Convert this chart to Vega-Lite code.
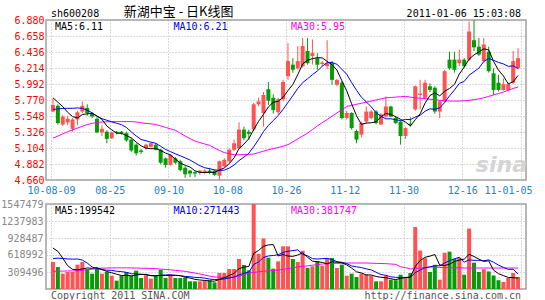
{
"$schema": "https://vega.github.io/schema/vega-lite/v6.json",
"padding": {"left": 0, "top": 5, "right": 5, "bottom": 2},
"background": "white",
"bounds": "flush",
"spacing": 24,
"config": {"view": {"stroke": "#a0a0a0", "strokeWidth": 1.5}, "text": {"font": "DejaVu Sans Mono", "fontSize": 10},
  "axis": {"labelOverlap": false, "labelFlush": false, "labelBound": false}},
"datasets": {"k": [
{"i":0,"o":5.61,"h":5.79,"l":5.60,"c":5.70,"v":491000,"m5":5.80,"m10":5.64,"m30":5.24,"vm5":746000,"vm10":552000,"vm30":322000},
{"i":1,"o":5.69,"h":5.71,"l":5.43,"c":5.45,"v":400000,"m5":5.74,"m10":5.645,"m30":5.27,"vm5":686000,"vm10":562000,"vm30":324000},
{"i":2,"o":5.43,"h":5.56,"l":5.41,"c":5.54,"v":279000,"m5":5.678,"m10":5.654,"m30":5.30,"vm5":562000,"vm10":555000,"vm30":326000},
{"i":3,"o":5.46,"h":5.55,"l":5.42,"c":5.51,"v":309000,"m5":5.60,"m10":5.655,"m30":5.33,"vm5":424000,"vm10":548000,"vm30":328000},
{"i":4,"o":5.37,"h":5.52,"l":5.33,"c":5.50,"v":309000,"m5":5.54,"m10":5.655,"m30":5.355,"vm5":358000,"vm10":543000,"vm30":330000},
{"i":5,"o":5.50,"h":5.62,"l":5.42,"c":5.60,"v":443000,"m5":5.52,"m10":5.66,"m30":5.38,"vm5":348000,"vm10":547000,"vm30":330000},
{"i":6,"o":5.61,"h":5.75,"l":5.59,"c":5.69,"v":491000,"m5":5.568,"m10":5.654,"m30":5.405,"vm5":366000,"vm10":526000,"vm30":340000},
{"i":7,"o":5.66,"h":5.71,"l":5.55,"c":5.59,"v":364000,"m5":5.578,"m10":5.628,"m30":5.43,"vm5":383000,"vm10":473000,"vm30":350000},
{"i":8,"o":5.58,"h":5.60,"l":5.52,"c":5.54,"v":279000,"m5":5.584,"m10":5.592,"m30":5.445,"vm5":377000,"vm10":400000,"vm30":360000},
{"i":9,"o":5.51,"h":5.53,"l":5.31,"c":5.32,"v":364000,"m5":5.548,"m10":5.544,"m30":5.46,"vm5":388000,"vm10":373000,"vm30":372000},
{"i":10,"o":5.32,"h":5.42,"l":5.27,"c":5.37,"v":279000,"m5":5.502,"m10":5.511,"m30":5.465,"vm5":355000,"vm10":352000,"vm30":380000},
{"i":11,"o":5.33,"h":5.35,"l":5.17,"c":5.23,"v":309000,"m5":5.41,"m10":5.489,"m30":5.468,"vm5":319000,"vm10":343000,"vm30":382000},
{"i":12,"o":5.24,"h":5.33,"l":5.23,"c":5.32,"v":243000,"m5":5.356,"m10":5.467,"m30":5.47,"vm5":295000,"vm10":339000,"vm30":384000},
{"i":13,"o":5.33,"h":5.34,"l":5.29,"c":5.31,"v":152000,"m5":5.31,"m10":5.447,"m30":5.47,"vm5":269000,"vm10":323000,"vm30":385000},
{"i":14,"o":5.33,"h":5.34,"l":5.29,"c":5.31,"v":243000,"m5":5.308,"m10":5.428,"m30":5.47,"vm5":245000,"vm10":317000,"vm30":385000},
{"i":15,"o":5.31,"h":5.33,"l":5.19,"c":5.21,"v":309000,"m5":5.276,"m10":5.389,"m30":5.47,"vm5":251000,"vm10":303000,"vm30":385000},
{"i":16,"o":5.22,"h":5.24,"l":5.05,"c":5.07,"v":243000,"m5":5.244,"m10":5.327,"m30":5.47,"vm5":238000,"vm10":279000,"vm30":383000},
{"i":17,"o":5.15,"h":5.17,"l":5.00,"c":5.03,"v":334000,"m5":5.186,"m10":5.271,"m30":5.465,"vm5":256000,"vm10":276000,"vm30":381000},
{"i":18,"o":5.07,"h":5.09,"l":5.02,"c":5.05,"v":200000,"m5":5.134,"m10":5.222,"m30":5.455,"vm5":266000,"vm10":268000,"vm30":379000},
{"i":19,"o":5.10,"h":5.16,"l":5.08,"c":5.15,"v":243000,"m5":5.102,"m10":5.205,"m30":5.445,"vm5":266000,"vm10":256000,"vm30":377000},
{"i":20,"o":5.12,"h":5.18,"l":5.11,"c":5.17,"v":188000,"m5":5.094,"m10":5.185,"m30":5.44,"vm5":242000,"vm10":246000,"vm30":375000},
{"i":21,"o":5.15,"h":5.17,"l":5.07,"c":5.08,"v":243000,"m5":5.096,"m10":5.17,"m30":5.43,"vm5":242000,"vm10":240000,"vm30":370000},
{"i":22,"o":5.08,"h":5.09,"l":4.88,"c":4.90,"v":352000,"m5":5.07,"m10":5.128,"m30":5.41,"vm5":245000,"vm10":251000,"vm30":362000},
{"i":23,"o":4.96,"h":4.97,"l":4.83,"c":4.87,"v":200000,"m5":5.034,"m10":5.084,"m30":5.39,"vm5":245000,"vm10":256000,"vm30":356000},
{"i":24,"o":4.87,"h":5.02,"l":4.86,"c":5.01,"v":261000,"m5":5.006,"m10":5.054,"m30":5.37,"vm5":249000,"vm10":257000,"vm30":350000},
{"i":25,"o":4.96,"h":4.98,"l":4.88,"c":4.90,"v":200000,"m5":4.952,"m10":5.023,"m30":5.35,"vm5":251000,"vm10":246000,"vm30":340000},
{"i":26,"o":4.92,"h":4.94,"l":4.78,"c":4.80,"v":200000,"m5":4.896,"m10":4.996,"m30":5.31,"vm5":243000,"vm10":242000,"vm30":331000},
{"i":27,"o":4.83,"h":4.85,"l":4.69,"c":4.74,"v":200000,"m5":4.864,"m10":4.967,"m30":5.27,"vm5":212000,"vm10":229000,"vm30":322000},
{"i":28,"o":4.79,"h":4.80,"l":4.70,"c":4.75,"v":140000,"m5":4.84,"m10":4.937,"m30":5.235,"vm5":200000,"vm10":223000,"vm30":306000},
{"i":29,"o":4.77,"h":4.78,"l":4.70,"c":4.75,"v":140000,"m5":4.788,"m10":4.897,"m30":5.20,"vm5":176000,"vm10":212000,"vm30":290000},
{"i":30,"o":4.76,"h":4.80,"l":4.73,"c":4.79,"v":140000,"m5":4.766,"m10":4.859,"m30":5.18,"vm5":164000,"vm10":208000,"vm30":273000},
{"i":31,"o":4.76,"h":4.81,"l":4.74,"c":4.79,"v":158000,"m5":4.764,"m10":4.83,"m30":5.16,"vm5":156000,"vm10":199000,"vm30":255000},
{"i":32,"o":4.79,"h":4.83,"l":4.74,"c":4.76,"v":158000,"m5":4.768,"m10":4.816,"m30":5.14,"vm5":147000,"vm10":180000,"vm30":236000},
{"i":33,"o":4.79,"h":4.80,"l":4.72,"c":4.73,"v":121000,"m5":4.764,"m10":4.802,"m30":5.105,"vm5":143000,"vm10":172000,"vm30":218000},
{"i":34,"o":4.72,"h":4.93,"l":4.66,"c":4.92,"v":291000,"m5":4.798,"m10":4.793,"m30":5.07,"vm5":174000,"vm10":175000,"vm30":215000},
{"i":35,"o":4.85,"h":4.96,"l":4.84,"c":4.94,"v":291000,"m5":4.828,"m10":4.797,"m30":5.04,"vm5":204000,"vm10":184000,"vm30":213000},
{"i":36,"o":4.92,"h":5.10,"l":4.90,"c":5.08,"v":364000,"m5":4.886,"m10":4.825,"m30":5.025,"vm5":245000,"vm10":200000,"vm30":212000},
{"i":37,"o":5.08,"h":5.22,"l":5.06,"c":5.17,"v":364000,"m5":4.968,"m10":4.868,"m30":5.01,"vm5":286000,"vm10":217000,"vm30":220000},
{"i":38,"o":5.10,"h":5.46,"l":5.09,"c":5.36,"v":546000,"m5":5.094,"m10":4.929,"m30":5.01,"vm5":371000,"vm10":257000,"vm30":231000},
{"i":39,"o":5.36,"h":5.40,"l":5.21,"c":5.24,"v":437000,"m5":5.158,"m10":4.978,"m30":5.012,"vm5":400000,"vm10":287000,"vm30":260000},
{"i":40,"o":5.33,"h":5.36,"l":5.22,"c":5.30,"v":340000,"m5":5.232,"m10":5.03,"m30":5.015,"vm5":410000,"vm10":307000,"vm30":291000},
{"i":41,"o":5.36,"h":5.73,"l":5.34,"c":5.71,"v":1547479,"m5":5.358,"m10":5.122,"m30":5.02,"vm5":647000,"vm10":446000,"vm30":302000},
{"i":42,"o":5.71,"h":5.80,"l":5.68,"c":5.75,"v":640000,"m5":5.474,"m10":5.221,"m30":5.04,"vm5":702000,"vm10":494000,"vm30":312000},
{"i":43,"o":5.59,"h":5.88,"l":5.40,"c":5.84,"v":920000,"m5":5.57,"m10":5.332,"m30":5.06,"vm5":777000,"vm10":574000,"vm30":322000},
{"i":44,"o":5.92,"h":6.02,"l":5.70,"c":5.76,"v":570000,"m5":5.674,"m10":5.416,"m30":5.08,"vm5":803000,"vm10":602000,"vm30":330000},
{"i":45,"o":5.80,"h":5.85,"l":5.58,"c":5.63,"v":370000,"m5":5.738,"m10":5.485,"m30":5.095,"vm5":809000,"vm10":610000,"vm30":338000},
{"i":46,"o":5.60,"h":5.80,"l":5.57,"c":5.78,"v":504000,"m5":5.752,"m10":5.555,"m30":5.11,"vm5":601000,"vm10":624000,"vm30":345000},
{"i":47,"o":5.78,"h":6.05,"l":5.75,"c":6.02,"v":777000,"m5":5.806,"m10":5.64,"m30":5.13,"vm5":628000,"vm10":665000,"vm30":358000},
{"i":48,"o":6.10,"h":6.56,"l":6.05,"c":6.31,"v":777000,"m5":5.90,"m10":5.735,"m30":5.15,"vm5":600000,"vm10":688000,"vm30":372000},
{"i":49,"o":6.26,"h":6.35,"l":6.15,"c":6.19,"v":546000,"m5":5.986,"m10":5.83,"m30":5.19,"vm5":595000,"vm10":699000,"vm30":386000},
{"i":50,"o":6.21,"h":6.52,"l":6.19,"c":6.31,"v":491000,"m5":6.122,"m10":5.93,"m30":5.23,"vm5":619000,"vm10":714000,"vm30":400000},
{"i":51,"o":6.24,"h":6.63,"l":6.22,"c":6.52,"v":698000,"m5":6.27,"m10":6.011,"m30":5.27,"vm5":658000,"vm10":629000,"vm30":411000},
{"i":52,"o":6.45,"h":6.63,"l":6.26,"c":6.28,"v":382000,"m5":6.322,"m10":6.064,"m30":5.31,"vm5":579000,"vm10":604000,"vm30":422000},
{"i":53,"o":6.38,"h":6.61,"l":6.26,"c":6.42,"v":413000,"m5":6.344,"m10":6.122,"m30":5.36,"vm5":506000,"vm10":553000,"vm30":433000},
{"i":54,"o":6.35,"h":6.42,"l":6.19,"c":6.26,"v":504000,"m5":6.358,"m10":6.172,"m30":5.41,"vm5":498000,"vm10":546000,"vm30":444000},
{"i":55,"o":6.27,"h":6.31,"l":6.24,"c":6.29,"v":425000,"m5":6.354,"m10":6.238,"m30":5.455,"vm5":484000,"vm10":552000,"vm30":455000},
{"i":56,"o":6.24,"h":6.60,"l":6.20,"c":6.28,"v":564000,"m5":6.306,"m10":6.288,"m30":5.50,"vm5":458000,"vm10":558000,"vm30":459000},
{"i":57,"o":6.28,"h":6.31,"l":5.98,"c":6.05,"v":564000,"m5":6.26,"m10":6.291,"m30":5.545,"vm5":494000,"vm10":536000,"vm30":464000},
{"i":58,"o":5.98,"h":6.06,"l":5.96,"c":6.05,"v":382000,"m5":6.186,"m10":6.265,"m30":5.59,"vm5":488000,"vm10":497000,"vm30":468000},
{"i":59,"o":6.01,"h":6.03,"l":5.50,"c":5.52,"v":443000,"m5":6.038,"m10":6.198,"m30":5.635,"vm5":476000,"vm10":487000,"vm30":471000},
{"i":60,"o":5.52,"h":5.62,"l":5.50,"c":5.59,"v":243000,"m5":5.898,"m10":6.126,"m30":5.68,"vm5":439000,"vm10":462000,"vm30":473000},
{"i":61,"o":5.59,"h":5.60,"l":5.36,"c":5.38,"v":279000,"m5":5.718,"m10":6.012,"m30":5.695,"vm5":382000,"vm10":420000,"vm30":473000},
{"i":62,"o":5.34,"h":5.36,"l":5.17,"c":5.22,"v":218000,"m5":5.552,"m10":5.906,"m30":5.71,"vm5":313000,"vm10":404000,"vm30":473000},
{"i":63,"o":5.29,"h":5.47,"l":5.25,"c":5.45,"v":279000,"m5":5.432,"m10":5.809,"m30":5.725,"vm5":292000,"vm10":390000,"vm30":473000},
{"i":64,"o":5.47,"h":5.68,"l":5.44,"c":5.61,"v":261000,"m5":5.45,"m10":5.744,"m30":5.74,"vm5":256000,"vm10":366000,"vm30":473000},
{"i":65,"o":5.52,"h":5.63,"l":5.50,"c":5.61,"v":243000,"m5":5.454,"m10":5.676,"m30":5.755,"vm5":256000,"vm10":348000,"vm30":470000},
{"i":66,"o":5.61,"h":5.63,"l":5.43,"c":5.45,"v":140000,"m5":5.468,"m10":5.593,"m30":5.77,"vm5":228000,"vm10":305000,"vm30":467000},
{"i":67,"o":5.43,"h":5.59,"l":5.42,"c":5.57,"v":140000,"m5":5.538,"m10":5.545,"m30":5.785,"vm5":213000,"vm10":263000,"vm30":464000},
{"i":68,"o":5.54,"h":5.82,"l":5.52,"c":5.68,"v":240000,"m5":5.584,"m10":5.508,"m30":5.80,"vm5":205000,"vm10":249000,"vm30":461000},
{"i":69,"o":5.68,"h":5.69,"l":5.53,"c":5.54,"v":170000,"m5":5.57,"m10":5.51,"m30":5.805,"vm5":187000,"vm10":221000,"vm30":455000},
{"i":70,"o":5.52,"h":5.55,"l":5.44,"c":5.45,"v":160000,"m5":5.538,"m10":5.496,"m30":5.81,"vm5":170000,"vm10":213000,"vm30":449000},
{"i":71,"o":5.47,"h":5.48,"l":5.15,"c":5.27,"v":260000,"m5":5.502,"m10":5.485,"m30":5.815,"vm5":194000,"vm10":211000,"vm30":405000},
{"i":72,"o":5.27,"h":5.39,"l":5.23,"c":5.38,"v":210000,"m5":5.464,"m10":5.501,"m30":5.82,"vm5":208000,"vm10":210000,"vm30":390000},
{"i":73,"o":5.44,"h":5.53,"l":5.40,"c":5.42,"v":290000,"m5":5.412,"m10":5.498,"m30":5.81,"vm5":218000,"vm10":211000,"vm30":366000},
{"i":74,"o":5.64,"h":5.97,"l":5.62,"c":5.96,"v":1128000,"m5":5.496,"m10":5.533,"m30":5.80,"vm5":410000,"vm10":298000,"vm30":373000},
{"i":75,"o":5.84,"h":6.05,"l":5.64,"c":5.86,"v":700000,"m5":5.578,"m10":5.558,"m30":5.795,"vm5":518000,"vm10":344000,"vm30":382000},
{"i":76,"o":5.80,"h":6.05,"l":5.78,"c":6.01,"v":560000,"m5":5.726,"m10":5.614,"m30":5.79,"vm5":578000,"vm10":386000,"vm30":391000},
{"i":77,"o":5.96,"h":6.00,"l":5.88,"c":5.91,"v":310000,"m5":5.832,"m10":5.648,"m30":5.78,"vm5":598000,"vm10":403000,"vm30":400000},
{"i":78,"o":5.94,"h":5.96,"l":5.58,"c":5.61,"v":440000,"m5":5.87,"m10":5.641,"m30":5.775,"vm5":628000,"vm10":423000,"vm30":397000},
{"i":79,"o":5.61,"h":5.77,"l":5.52,"c":5.75,"v":170000,"m5":5.828,"m10":5.662,"m30":5.765,"vm5":436000,"vm10":423000,"vm30":394000},
{"i":80,"o":5.75,"h":6.19,"l":5.73,"c":6.17,"v":660000,"m5":5.89,"m10":5.734,"m30":5.76,"vm5":428000,"vm10":473000,"vm30":391000},
{"i":81,"o":6.33,"h":6.44,"l":6.19,"c":6.21,"v":680000,"m5":5.93,"m10":5.828,"m30":5.755,"vm5":452000,"vm10":515000,"vm30":388000},
{"i":82,"o":6.33,"h":6.44,"l":6.15,"c":6.19,"v":550000,"m5":5.986,"m10":5.909,"m30":5.755,"vm5":500000,"vm10":549000,"vm30":386000},
{"i":83,"o":6.28,"h":6.47,"l":6.24,"c":6.33,"v":570000,"m5":6.13,"m10":6.00,"m30":5.755,"vm5":526000,"vm10":577000,"vm30":385000},
{"i":84,"o":6.33,"h":6.35,"l":6.22,"c":6.24,"v":260000,"m5":6.228,"m10":6.028,"m30":5.76,"vm5":544000,"vm10":490000,"vm30":383000},
{"i":85,"o":6.33,"h":6.86,"l":6.31,"c":6.72,"v":1100000,"m5":6.338,"m10":6.114,"m30":5.765,"vm5":632000,"vm10":530000,"vm30":382000},
{"i":86,"o":6.60,"h":6.88,"l":6.45,"c":6.50,"v":480000,"m5":6.396,"m10":6.163,"m30":5.775,"vm5":592000,"vm10":522000,"vm30":382000},
{"i":87,"o":6.51,"h":6.63,"l":6.38,"c":6.40,"v":310000,"m5":6.438,"m10":6.212,"m30":5.785,"vm5":544000,"vm10":522000,"vm30":382000},
{"i":88,"o":6.31,"h":6.63,"l":6.29,"c":6.54,"v":360000,"m5":6.48,"m10":6.305,"m30":5.80,"vm5":502000,"vm10":514000,"vm30":382000},
{"i":89,"o":6.44,"h":6.51,"l":6.15,"c":6.17,"v":320000,"m5":6.466,"m10":6.347,"m30":5.82,"vm5":514000,"vm10":529000,"vm30":382000},
{"i":90,"o":6.14,"h":6.21,"l":5.84,"c":5.91,"v":246000,"m5":6.304,"m10":6.321,"m30":5.84,"vm5":343000,"vm10":488000,"vm30":382000},
{"i":91,"o":6.01,"h":6.12,"l":5.89,"c":5.91,"v":160000,"m5":6.186,"m10":6.291,"m30":5.86,"vm5":279000,"vm10":436000,"vm30":382000},
{"i":92,"o":5.91,"h":6.07,"l":5.90,"c":5.99,"v":130000,"m5":6.104,"m10":6.271,"m30":5.88,"vm5":243000,"vm10":394000,"vm30":382000},
{"i":93,"o":5.91,"h":6.01,"l":5.89,"c":5.99,"v":200000,"m5":5.994,"m10":6.237,"m30":5.905,"vm5":211000,"vm10":357000,"vm30":382000},
{"i":94,"o":6.01,"h":6.45,"l":5.99,"c":6.31,"v":290000,"m5":6.022,"m10":6.244,"m30":5.93,"vm5":205000,"vm10":360000,"vm30":382000},
{"i":95,"o":6.21,"h":6.49,"l":6.19,"c":6.35,"v":218000,"m5":6.11,"m10":6.207,"m30":5.95,"vm5":199542,"vm10":271443,"vm30":381747}
]},
"vconcat": [
{
"width": 480, "height": 160,
"layer": [
{"data": {"name": "k"}, "mark": {"type": "rule", "strokeWidth": 1},
 "encoding": {
  "x": {"field": "i", "type": "quantitative", "scale": {"domain": [-0.4, 95.6], "nice": false, "zero": false},
   "axis": {"title": null, "values": [-0.4, 11.6, 23.6, 35.6, 47.6, 59.6, 71.6, 83.6, 95.6], "tickCount": 30,
    "labelExpr": "['10-08-09','08-25','09-10','10-08','10-26','11-12','11-30','12-16','11-01-05'][round((datum.value+0.4)/12)]",
    "labelFont": "DejaVu Sans Mono", "labelFontSize": 10, "labelColor": "#1a82d2", "labelPadding": 5, "labelFlush": false, "labelOverlap": false,
    "labelOffset": {"condition": {"test": "datum.value > 90", "value": -13}, "value": 0},
    "ticks": false, "domain": false, "grid": true, "gridColor": "#b4b4b4", "gridDash": [1, 2]}},
  "y": {"field": "l", "type": "quantitative", "scale": {"domain": [4.66, 6.88], "nice": false, "zero": false},
   "axis": {"title": null, "values": [4.66, 4.882, 5.104, 5.326, 5.548, 5.77, 5.992, 6.214, 6.436, 6.658, 6.88], "tickCount": 30, "format": ".3f",
    "labelFont": "DejaVu Sans Mono", "labelFontSize": 10, "labelColor": "#ff0000", "labelPadding": 2, "labelOverlap": false,
    "ticks": false, "domain": false, "grid": true, "gridColor": "#b4b4b4", "gridDash": [1, 2]}},
  "y2": {"field": "h"},
  "color": {"condition": {"test": "datum.c >= datum.o", "value": "#ff5252"}, "value": "#079b07"}
 }},
{"data": {"name": "k"}, "mark": {"type": "bar", "size": 4},
 "encoding": {
  "x": {"field": "i", "type": "quantitative"},
  "y": {"field": "o", "type": "quantitative"},
  "y2": {"field": "c"},
  "color": {"condition": {"test": "datum.c >= datum.o", "value": "#ff5252"}, "value": "#079b07"}
 }},
{"data": {"name": "k"}, "mark": {"type": "line", "color": "#ff00ff", "strokeWidth": 1},
 "encoding": {"x": {"field": "i", "type": "quantitative"}, "y": {"field": "m30", "type": "quantitative"}}},
{"data": {"name": "k"}, "mark": {"type": "line", "color": "#0000ff", "strokeWidth": 1},
 "encoding": {"x": {"field": "i", "type": "quantitative"}, "y": {"field": "m10", "type": "quantitative"}}},
{"data": {"name": "k"}, "mark": {"type": "line", "color": "#000000", "strokeWidth": 1},
 "encoding": {"x": {"field": "i", "type": "quantitative"}, "y": {"field": "m5", "type": "quantitative"}}},
{"data": {"values": [{}]}, "mark": {"type": "text", "align": "left", "baseline": "middle", "dy": 7, "color": "#000000", "text": "MA5:6.11"},
 "encoding": {"x": {"datum": 0.4, "type": "quantitative"}, "y": {"datum": 6.88, "type": "quantitative"}}},
{"data": {"values": [{}]}, "mark": {"type": "text", "align": "left", "baseline": "middle", "dy": 7, "color": "#0000ff", "text": "MA10:6.21"},
 "encoding": {"x": {"datum": 24.6, "type": "quantitative"}, "y": {"datum": 6.88, "type": "quantitative"}}},
{"data": {"values": [{}]}, "mark": {"type": "text", "align": "left", "baseline": "middle", "dy": 7, "color": "#ff00ff", "text": "MA30:5.95"},
 "encoding": {"x": {"datum": 48.6, "type": "quantitative"}, "y": {"datum": 6.88, "type": "quantitative"}}},
{"data": {"values": [{}]}, "mark": {"type": "text", "align": "left", "baseline": "alphabetic", "dy": -3, "color": "#000000", "text": "sh600208"},
 "encoding": {"x": {"datum": -0.4, "type": "quantitative"}, "y": {"datum": 6.88, "type": "quantitative"}}},
{"data": {"values": [{}]}, "mark": {"type": "text", "align": "center", "baseline": "alphabetic", "dy": -4, "color": "#000000", "font": "Noto Sans CJK SC", "fontSize": 13, "text": "新湖中宝    -    日K线图"},
 "encoding": {"x": {"datum": 25.66, "type": "quantitative"}, "y": {"datum": 6.88, "type": "quantitative"}}},
{"data": {"values": [{}]}, "mark": {"type": "text", "align": "right", "baseline": "alphabetic", "dy": -3, "color": "#000000", "text": "2011-01-06 15:03:08"},
 "encoding": {"x": {"datum": 95.6, "type": "quantitative"}, "y": {"datum": 6.88, "type": "quantitative"}}},
{"data": {"values": [{}]}, "mark": {"type": "text", "align": "center", "baseline": "middle", "color": "#d4d4d4", "font": "DejaVu Sans", "fontSize": 22, "fontStyle": "italic", "fontWeight": "bold", "text": "sina"},
 "encoding": {"x": {"datum": 91.6, "type": "quantitative"}, "y": {"datum": 4.87, "type": "quantitative"}}}
]
},
{
"width": 480, "height": 85,
"layer": [
{"data": {"name": "k"}, "mark": {"type": "bar", "size": 4},
 "encoding": {
  "x": {"field": "i", "type": "quantitative", "scale": {"domain": [-0.4, 95.6], "nice": false, "zero": false},
   "axis": {"title": null, "values": [-0.4, 11.6, 23.6, 35.6, 47.6, 59.6, 71.6, 83.6, 95.6], "tickCount": 30, "labels": false,
    "ticks": false, "domain": false, "grid": true, "gridColor": "#b4b4b4", "gridDash": [1, 2]}},
  "y": {"field": "v", "type": "quantitative", "scale": {"domain": [0, 1547479], "nice": false},
   "axis": {"title": null, "values": [309496, 618992, 928487, 1237983, 1547479], "tickCount": 30, "format": "d",
    "labelFont": "DejaVu Sans Mono", "labelFontSize": 10, "labelColor": "#888888", "labelPadding": 3, "labelOverlap": false,
    "ticks": false, "domain": false, "grid": true, "gridColor": "#b4b4b4", "gridDash": [1, 2]}},
  "color": {"condition": {"test": "datum.c >= datum.o", "value": "#ff5252"}, "value": "#079b07"}
 }},
{"data": {"name": "k"}, "mark": {"type": "line", "color": "#ff00ff", "strokeWidth": 1},
 "encoding": {"x": {"field": "i", "type": "quantitative"}, "y": {"field": "vm30", "type": "quantitative"}}},
{"data": {"name": "k"}, "mark": {"type": "line", "color": "#0000ff", "strokeWidth": 1},
 "encoding": {"x": {"field": "i", "type": "quantitative"}, "y": {"field": "vm10", "type": "quantitative"}}},
{"data": {"name": "k"}, "mark": {"type": "line", "color": "#000000", "strokeWidth": 1},
 "encoding": {"x": {"field": "i", "type": "quantitative"}, "y": {"field": "vm5", "type": "quantitative"}}},
{"data": {"values": [{}]}, "mark": {"type": "text", "align": "left", "baseline": "middle", "dy": 7, "color": "#000000", "text": "MA5:199542"},
 "encoding": {"x": {"datum": 0.4, "type": "quantitative"}, "y": {"datum": 1547479, "type": "quantitative"}}},
{"data": {"values": [{}]}, "mark": {"type": "text", "align": "left", "baseline": "middle", "dy": 7, "color": "#0000ff", "text": "MA10:271443"},
 "encoding": {"x": {"datum": 24.6, "type": "quantitative"}, "y": {"datum": 1547479, "type": "quantitative"}}},
{"data": {"values": [{}]}, "mark": {"type": "text", "align": "left", "baseline": "middle", "dy": 7, "color": "#ff00ff", "text": "MA30:381747"},
 "encoding": {"x": {"datum": 48.6, "type": "quantitative"}, "y": {"datum": 1547479, "type": "quantitative"}}},
{"data": {"values": [{}]}, "mark": {"type": "text", "align": "left", "baseline": "alphabetic", "dy": 10, "color": "#555555", "text": "Copyright 2011 SINA.COM"},
 "encoding": {"x": {"datum": -0.4, "type": "quantitative"}, "y": {"datum": 0, "type": "quantitative"}}},
{"data": {"values": [{}]}, "mark": {"type": "text", "align": "right", "baseline": "alphabetic", "dy": 10, "color": "#555555", "text": "http://finance.sina.com.cn"},
 "encoding": {"x": {"datum": 95.6, "type": "quantitative"}, "y": {"datum": 0, "type": "quantitative"}}}
]
}
]
}
